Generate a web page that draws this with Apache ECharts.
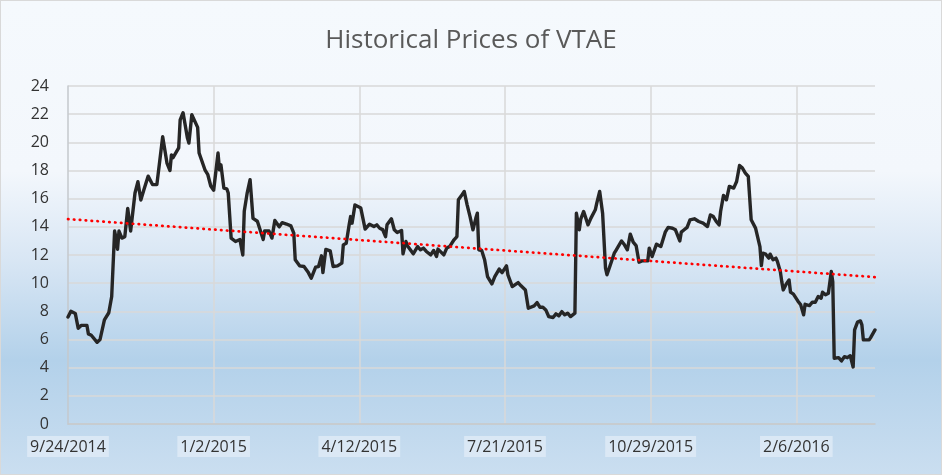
<!DOCTYPE html>
<html>
<head>
<meta charset="UTF-8">
<title>Historical Prices of VTAE</title>
<style>
  * { margin: 0; padding: 0; }
  body { background: #fff; }
  #wrap {
    width: 942px;
    height: 475px;
    box-sizing: border-box;
    border: 1px solid #d9d9d9;
    background: linear-gradient(to bottom, #f5f9fd 0%, #f3f7fc 36%, #d8e6f4 55%, #b3d1ea 76%, #cadef0 100%);
  }
  #main { width: 940px; height: 473px; }
</style>
<script src="https://cdn.jsdelivr.net/npm/echarts/dist/echarts.min.js"></script>
</head>
<body>
<div id="wrap"><div id="main"></div></div>
<script>
// days counted from 9/24/2014
var days = [0,2,5,7,8,9,13,14,16,20,22,25,28,30,32,33,34,35,37,39,41,43,46,48,50,52,55,56,58,61,65,68,70,71,72,76,77,79,82,83,85,89,90,94,96,98,100,103,104,105,107,109,110,112,115,118,120,121,123,125,127,130,131,134,135,138,140,142,145,147,150,153,155,156,159,162,165,167,170,172,174,175,177,180,182,185,188,189,191,193,194,195,197,201,204,207,210,212,214,216,218,219,222,224,226,229,230,232,233,237,240,242,244,246,249,251,253,254,258,260,262,265,267,268,270,272,274,276,278,280,281,282,284,286,288,291,293,296,298,301,302,305,309,311,314,316,320,322,324,326,328,330,333,335,337,339,341,343,345,348,349,351,352,354,357,359,362,363,365,367,369,370,372,375,376,380,382,384,386,388,390,392,394,398,399,401,404,407,410,412,415,417,420,421,423,425,427,430,433,436,439,441,443,445,447,448,450,452,454,457,459,461,463,465,467,469,472,475,476,477,479,481,482,484,486,487,489,490,491,493,495,496,498,501,503,505,506,509,511,513,515,517,518,520,522,523,524,525,526,529,531,533,535,537,539,540,542,544,545,546,550,551,554];
var prices = [7.6,8.0,7.85,6.8,6.7,7.0,7.0,6.4,6.3,5.8,6.0,7.4,7.9,9.05,13.7,13.2,12.4,13.7,13.2,13.3,15.3,13.7,16.4,17.2,15.9,16.6,17.6,17.6,17.0,17.0,20.4,18.5,18.0,19.1,18.9,19.6,21.6,22.1,20.3,19.95,21.96,21.06,19.24,18.05,17.7,16.9,16.6,19.24,18.05,18.4,16.75,16.7,16.4,13.2,12.96,13.1,12.0,15.1,16.4,17.35,14.6,14.4,14.45,13.1,13.7,13.7,13.2,14.45,14.0,14.3,14.2,14.07,13.55,11.66,11.23,11.18,10.75,10.35,11.14,11.18,11.94,10.75,12.4,12.3,11.18,11.23,11.42,12.72,12.84,14.14,14.73,14.26,15.56,15.33,13.84,14.19,14.02,14.14,13.9,13.8,13.3,14.14,14.57,13.79,13.6,13.74,12.08,12.96,12.65,12.08,12.6,12.37,12.49,12.25,12.01,12.32,11.9,12.42,12.01,12.49,12.6,13.08,13.31,15.92,16.2,16.51,15.56,14.73,13.79,14.62,14.97,12.37,12.32,11.66,10.47,9.95,10.47,11.0,10.75,11.23,10.59,9.76,10.04,9.81,9.52,8.22,8.39,8.62,8.29,8.29,8.1,7.63,7.56,7.82,7.68,7.98,7.75,7.87,7.63,7.87,14.97,13.79,14.55,15.09,14.14,14.62,15.21,15.68,16.51,14.97,11.07,10.6,11.2,12.13,12.3,13.0,12.72,12.37,13.48,12.91,12.67,11.49,11.58,11.58,12.49,11.89,12.77,12.6,13.62,13.96,13.9,13.79,13.0,13.62,13.79,13.96,14.5,14.57,14.38,14.26,14.02,14.85,14.73,14.38,14.14,15.09,16.23,15.92,16.87,16.75,17.22,18.36,18.17,17.82,17.58,14.5,13.91,12.6,11.25,12.13,12.06,11.78,12.06,11.66,11.78,11.54,10.83,10.11,9.52,9.93,10.23,9.36,9.22,8.74,8.46,7.75,8.5,8.41,8.65,8.65,9.05,8.93,9.36,9.17,9.29,9.22,10.83,10.11,4.67,4.71,4.48,4.78,4.71,4.85,4.05,6.68,7.23,7.32,7.04,5.97,5.97,6.13,6.68];
// linear trend, ends
var trendDays = [0, 554];
var trendValues = [14.55, 10.43];
var tickStep = 100;
var xTickLabels = ['9/24/2014', '1/2/2015', '4/12/2015', '7/21/2015', '10/29/2015', '2/6/2016'];

var lineData = days.map(function (d, i) { return [d, prices[i]]; });
var trendData = trendDays.map(function (d, i) { return [d, trendValues[i]]; });

var myChart = echarts.init(document.getElementById('main'));
var labelFont = '"Open Sans", sans-serif';
var option = {
  backgroundColor: 'transparent',
  animation: false,
  title: {
    text: 'Historical Prices of VTAE',
    left: 'center',
    top: 27,
    padding: 0,
    textStyle: { fontFamily: labelFont, fontSize: 26, fontWeight: 'normal', color: '#595959' }
  },
  grid: { left: 67, right: 66, top: 85, bottom: 50, containLabel: false },
  xAxis: {
    type: 'value',
    min: 0,
    max: 554,
    interval: tickStep,
    axisLine: { show: true, lineStyle: { color: '#c4c8cc', width: 1.5 } },
    axisTick: { show: false },
    splitLine: { show: true, showMinLine: false, showMaxLine: false, lineStyle: { color: '#d9d9d9', width: 1.5 } },
    axisLabel: {
      showMaxLabel: false,
      margin: 12,
      fontFamily: labelFont,
      fontSize: 16,
      color: '#333333',
      backgroundColor: 'rgba(226,236,247,0.75)',
      padding: [3, 3, 2, 3],
      formatter: function (v) { return xTickLabels[Math.round(v / tickStep)] || ''; }
    }
  },
  yAxis: {
    type: 'value',
    min: 0,
    max: 24,
    interval: 2,
    axisLine: { show: true, lineStyle: { color: '#c4c8cc', width: 1.5 } },
    axisTick: { show: false },
    splitLine: { show: true, lineStyle: { color: '#d9d9d9', width: 1.5 } },
    axisLabel: { margin: 19, fontFamily: labelFont, fontSize: 16, color: '#333333' }
  },
  series: [{
    type: 'line',
    data: lineData,
    showSymbol: false,
    lineStyle: { color: '#262626', width: 3.4, cap: 'round', join: 'round' },
    z: 3
  }, {
    type: 'line',
    data: trendData,
    showSymbol: false,
    lineStyle: { color: '#ff0000', width: 2.7, type: [0.5, 5.4], cap: 'round' },
    z: 4
  }]
};
myChart.setOption(option);
</script>
</body>
</html>
